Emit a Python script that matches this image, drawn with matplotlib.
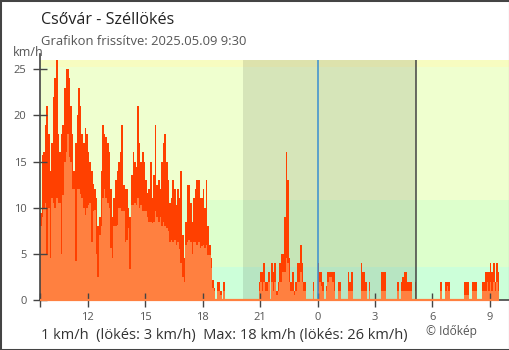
import numpy as np
import matplotlib
matplotlib.use('Agg')
import matplotlib.pyplot as plt
from matplotlib.patches import Rectangle

plt.rcParams['font.family'] = ['Open Sans', 'DejaVu Sans']

# 5 perces adatok 9:30-tól, soronként egy óra (12 érték)
start_hour = 9.5
step = 5 / 60.0

gust = [
    9.4, 15.7, 16, 19, 21, 18, 14, 17, 22, 24, 26, 18,
    16, 18, 19, 23, 25, 25, 24, 21, 18, 14, 17, 20,
    23, 21, 18, 17, 18.6, 18, 16, 15, 14, 12.6, 12, 11,
    8, 9, 14, 19, 18, 17.7, 17, 16, 12, 9, 11, 13,
    14, 15, 16, 19, 12.5, 12, 12, 10, 9, 13.5, 16, 15,
    14.4, 21, 17, 15, 16, 15, 13, 11.6, 12, 15, 11, 13.5,
    19, 12.5, 13, 12, 15, 17, 18, 15, 13, 10.5, 11, 13,
    12, 10.3, 12, 11, 14, 7, 4.6, 8.5, 12.5, 12.5, 10.5, 8.5,
    11, 12, 13, 13, 11, 11, 12, 10, 13, 8, 6, 4.5,
    2.2, 1.3, 0, 2, 2, 1, 0, 2, 0, 0, 0, 0,
    0, 0, 0, 0, 0, 0, 0, 0, 0, 0, 0, 0,
    0, 0, 0, 0, 0, 2, 3, 3, 4, 2, 2, 3,
    0, 4, 3, 4, 1, 2, 4, 5, 5, 9, 16, 13,
    4.5, 2, 3, 1, 2, 4, 4, 6, 4, 2, 2, 0,
    0, 0, 0, 2, 0, 0, 4, 3, 3, 2, 0, 1.5,
    3, 3, 3, 3, 3, 0, 0, 2, 2, 0, 0, 0,
    0, 3, 2, 3, 0, 0, 0, 0, 0, 4, 3, 3,
    2, 0, 2, 0, 0, 0, 0, 0, 0, 0, 3, 3,
    3, 0, 0, 0, 0, 0, 0, 0, 2, 0, 2, 2.5,
    3, 3, 2, 2, 2, 0, 0, 2, 0, 0, 0, 0,
    0, 0, 0, 0, 0, 0, 0, 0, 0, 0, 0, 2,
    0, 0, 2, 2, 2, 0, 0, 0, 0, 0, 0, 0,
    0, 0, 2, 2, 2, 0, 0, 2, 2, 2, 0, 0,
    0, 2, 2, 3, 3, 3, 4, 3, 4, 2, 4, 3,
]

wind = [
    8, 9, 10, 10.5, 4.9, 10, 4.5, 11, 10.5, 10, 11, 10.5,
    10.5, 5, 11.4, 15, 16, 18, 15.5, 15, 12, 12, 4.2, 12,
    12, 11.5, 11, 10, 9.2, 10, 10.3, 10.5, 6.3, 9.6, 9.8, 5,
    2.5, 7, 8, 11, 12, 11, 10.5, 10, 5.6, 4.5, 8, 8,
    8.1, 10, 10, 9.6, 9.6, 6.3, 6.5, 7.8, 3.4, 10.3, 10.3, 10.5,
    10.3, 11, 10, 10.3, 9.6, 9.6, 9.6, 9, 8.5, 8.5, 8.3, 8.5,
    9.6, 9, 8.5, 9, 8, 8.5, 8, 7.8, 7.5, 6.3, 6.5, 6.3,
    6.5, 6, 6.3, 5.5, 4, 2.5, 2, 6, 6.3, 6.5, 6.3, 5,
    6.3, 6.3, 6, 6.3, 5.6, 5.8, 6, 5.6, 6, 4.9, 4.9, 3.5,
    1.3, 1, 0, 1, 1, 0.5, 0, 1, 0, 0, 0, 0,
    0, 0, 0, 0, 0, 0, 0, 0, 0, 0, 0, 0,
    0, 0, 0, 0, 0, 1, 2, 1, 2, 1, 1, 2,
    0, 2, 1, 2, 0.5, 1, 2, 2, 3, 3, 4.5, 4,
    2, 1, 1, 0.5, 1, 2, 2, 3, 2, 1, 1, 0,
    0, 0, 0, 1, 0, 0, 1, 2, 1.5, 1, 0, 1,
    2, 2.5, 2.5, 2, 1, 0, 0, 1, 1, 0, 0, 0,
    0, 1, 1, 1, 0, 0, 0, 0, 0, 1, 1, 1,
    1, 0, 1, 0, 0, 0, 0, 0, 0, 0, 1, 1,
    1, 0, 0, 0, 0, 0, 0, 0, 1, 0, 1, 1,
    1, 1, 1, 1, 1, 0, 0, 1, 0, 0, 0, 0,
    0, 0, 0, 0, 0, 0, 0, 0, 0, 0, 0, 1,
    0, 0, 1, 1.5, 1, 0, 0, 0, 0, 0, 0, 0,
    0, 0, 0.5, 0.5, 0.5, 0, 0, 1, 1, 1, 0, 0,
    0, 1, 1, 1, 2, 1, 2, 1, 2, 1, 2, 1,
]

# napnyugta / napkelte (órában, előző nap 0 órától)
sunset = 20 + 5 / 60.0
sunrise = 29 + 8 / 60.0

band_limits = [0, 3.6, 10.8, 25.2, 26]
band_colors = ['#ccffd9', '#ddffcc', '#efffcf', '#f7fcc0']

tick_pos = [9.5, 12, 15, 18, 21, 24, 27, 30, 33]
tick_labels = ['', '12', '15', '18', '21', '0', '3', '6', '9']

edges = start_hour + step * np.arange(len(gust) + 1)

fig = plt.figure(figsize=(5.1, 3.5), dpi=100)
ax = fig.add_axes([40 / 510, 50 / 350, 469 / 510, 240 / 350])

for lo, hi, c in zip(band_limits[:-1], band_limits[1:], band_colors):
    ax.axhspan(lo, hi, color=c, lw=0, zorder=0)
ax.axvspan(sunset, sunrise, color='black', alpha=0.1, lw=0, zorder=0.5)

ax.stairs(gust, edges, fill=True, color='#ff4000', lw=0, zorder=1)
ax.stairs(wind, edges, fill=True, color='#ff8040', lw=0, zorder=1.1)
ax.plot([edges[0], edges[-1]], [0, 0], color='#ff8040', lw=1.6,
        solid_capstyle='butt', zorder=3, clip_on=False)

ax.axvline(24, color='#3a8ed0', lw=1.1, zorder=2)
ax.axvline(sunrise, color='#444444', lw=1.1, zorder=2)

ax.set_xlim(9.5, 34)
ax.set_ylim(0, 26)
ax.set_xticks(tick_pos)
ax.set_xticklabels(tick_labels)
ax.set_yticks([0, 5, 10, 15, 20, 25])
ax.tick_params(axis='both', direction='inout', length=9.5, width=1,
               color='#444444', labelcolor='#555555', labelsize=8)
ax.tick_params(axis='x', pad=4)
ax.tick_params(axis='y', pad=5)
ax.xaxis.get_major_ticks()[5].tick1line.set_color('#3a8ed0')

for s in ['top', 'right']:
    ax.spines[s].set_visible(False)
for s in ['left', 'bottom']:
    ax.spines[s].set_color('#444444')
    ax.spines[s].set_linewidth(1.2)
ax.spines['left'].set_bounds(0, 26.65)

W, H = 510.0, 350.0
fig.text(40.7 / W, 1 - 24 / H, 'Csővár - Széllökés', fontsize=11.6,
         color='#222222', va='baseline')
fig.text(40.7 / W, 1 - 45 / H, 'Grafikon frissítve: 2025.05.09 9:30',
         fontsize=9.4, color='#555555', va='baseline')
fig.text(27.8 / W, 1 - 56 / H, 'km/h', fontsize=9, color='#555555',
         ha='center', va='baseline')
fig.text(41 / W, 1 - 339.3 / H,
         '1 km/h  (lökés: 3 km/h)  Max: 18 km/h (lökés: 26 km/h)',
         fontsize=10.55, color='#333333', va='baseline')
fig.text(426 / W, 1 - 335 / H, '© Időkép', fontsize=8.6, color='#555555',
         va='baseline')

fig.patches.append(Rectangle((0, 0), 1, 1, transform=fig.transFigure,
                             fill=False, edgecolor='#444444', lw=2.2))

fig.savefig('out.png', dpi=100)
